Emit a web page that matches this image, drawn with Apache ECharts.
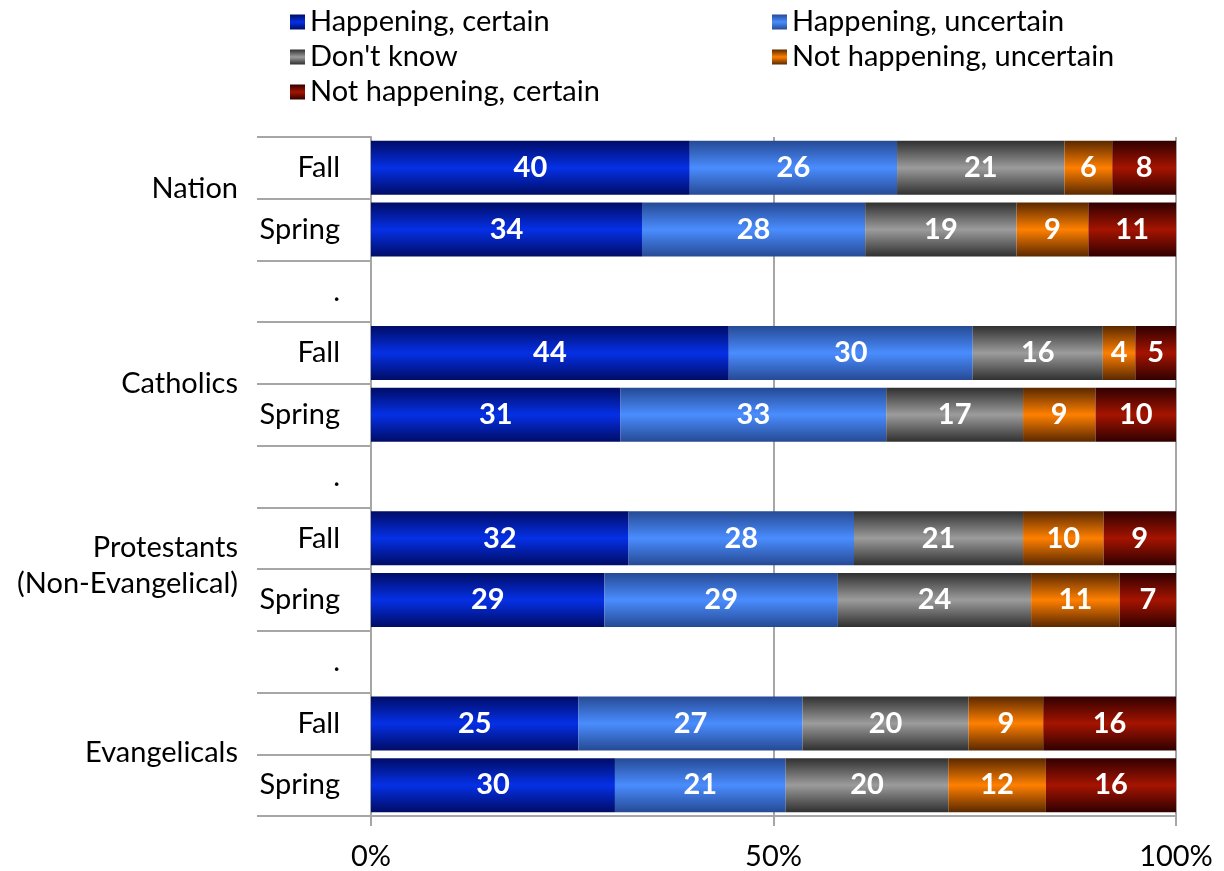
<!DOCTYPE html>
<html>
<head>
<meta charset="utf-8">
<title>Global warming belief by religious group</title>
<script src="https://cdn.jsdelivr.net/npm/echarts@6.0.0/dist/echarts.min.js"></script>
<style>
  html, body { margin: 0; padding: 0; background: #fff; }
  #chart { width: 1224px; height: 871px; }
</style>
</head>
<body>
<div id="chart"></div>
<script>
// rows top to bottom, '.' rows are the spacers between groups
const categories = ['Fall', 'Spring', '.', 'Fall', 'Spring', '.', 'Fall', 'Spring', '.', 'Fall', 'Spring'];
const groups = ['Nation', 'Catholics', 'Protestants\n(Non-Evangelical)', 'Evangelicals'];
const groupRows = [[0, 1], [3, 4], [6, 7], [9, 10]];

const happeningCertain      = [40, 34, null, 44, 31, null, 32, 29, null, 25, 30];
const happeningUncertain    = [26, 28, null, 30, 33, null, 28, 29, null, 27, 21];
const dontKnow              = [21, 19, null, 16, 17, null, 21, 24, null, 20, 20];
const notHappeningUncertain = [6, 9, null, 4, 9, null, 10, 11, null, 9, 12];
const notHappeningCertain   = [8, 11, null, 5, 10, null, 9, 7, null, 16, 16];

const xTicks = [0, 50, 100];

const FONT = 'Lato, "Noto Sans", sans-serif';
const FS = 29;

const raw = [
  { name: 'Happening, certain', data: happeningCertain, c: ['#000c66', '#0530e6'] },
  { name: 'Happening, uncertain', data: happeningUncertain, c: ['#264a94', '#4a8dff'] },
  { name: "Don't know", data: dontKnow, c: ['#303030', '#9c9c9c'] },
  { name: 'Not happening, uncertain', data: notHappeningUncertain, c: ['#5a2800', '#ff8000'] },
  { name: 'Not happening, certain', data: notHappeningCertain, c: ['#300000', '#a51400'] }
];

// 100% stacked: each row scaled by its own total, labels keep the raw number
const totals = categories.map((_, i) =>
  raw.reduce((s, r) => s + (r.data[i] == null ? 0 : r.data[i]), 0));

function grad(c) {
  return new echarts.graphic.LinearGradient(0, 0, 0, 1, [
    { offset: 0, color: c[0] },
    { offset: 0.5, color: c[1] },
    { offset: 1, color: c[0] }
  ]);
}

const series = raw.map(r => ({
  name: r.name,
  type: 'bar',
  stack: 'total',
  barWidth: 54,
  itemStyle: { color: grad(r.c) },
  label: {
    show: true, position: 'inside', color: '#fff',
    fontFamily: FONT, fontSize: FS, fontWeight: 'bold',
    formatter: p => p.data.raw
  },
  data: r.data.map((v, i) => v == null ? null : { value: v / totals[i] * 100, raw: v })
}));

const chart = echarts.init(document.getElementById('chart'));
const gray = '#a6a6a6';

chart.setOption({
  animation: false,
  textStyle: { fontFamily: FONT },
  legend: [
    {
      orient: 'vertical', left: 285, top: 2, icon: 'rect',
      itemWidth: 15, itemHeight: 15, itemGap: 5,
      textStyle: { fontSize: FS, color: '#000', lineHeight: 30 },
      data: ['Happening, certain', "Don't know", 'Not happening, certain']
    },
    {
      orient: 'vertical', left: 767, top: 2, icon: 'rect',
      itemWidth: 15, itemHeight: 15, itemGap: 5,
      textStyle: { fontSize: FS, color: '#000', lineHeight: 30 },
      data: ['Happening, uncertain', 'Not happening, uncertain']
    }
  ],
  grid: { left: 371, right: 48, top: 137, bottom: 55 },
  xAxis: {
    type: 'value', min: 0, max: 100, interval: 50,
    axisLine: { show: true, lineStyle: { color: gray, width: 2 } },
    axisTick: { show: true, length: 10, lineStyle: { color: gray, width: 2 } },
    splitLine: { show: true, lineStyle: { color: gray, width: 2 } },
    axisLabel: {
      fontSize: FS, color: '#000', margin: 26,
      formatter: v => xTicks.includes(v) ? v + '%' : ''
    }
  },
  yAxis: {
    type: 'category', inverse: true, data: categories,
    axisLine: { show: true, lineStyle: { color: gray, width: 2 } },
    axisTick: { show: true, length: 114, interval: 0, lineStyle: { color: gray, width: 2 } },
    axisLabel: { fontSize: FS, color: '#000', margin: 31, interval: 0 }
  },
  series: series
});

// outer group labels, centred on their two rows
const nudge = [-10, 0, -3, -2];
chart.setOption({
  graphic: groups.map((g, k) => {
    const y0 = chart.convertToPixel({ yAxisIndex: 0 }, groupRows[k][0]);
    const y1 = chart.convertToPixel({ yAxisIndex: 0 }, groupRows[k][1]);
    return {
      type: 'text', right: 1224 - 238, y: (y0 + y1) / 2 + nudge[k],
      style: {
        text: g, fill: '#000', font: FS + 'px ' + FONT,
        align: 'right', verticalAlign: 'middle', lineHeight: 36
      }
    };
  })
});
</script>
</body>
</html>
